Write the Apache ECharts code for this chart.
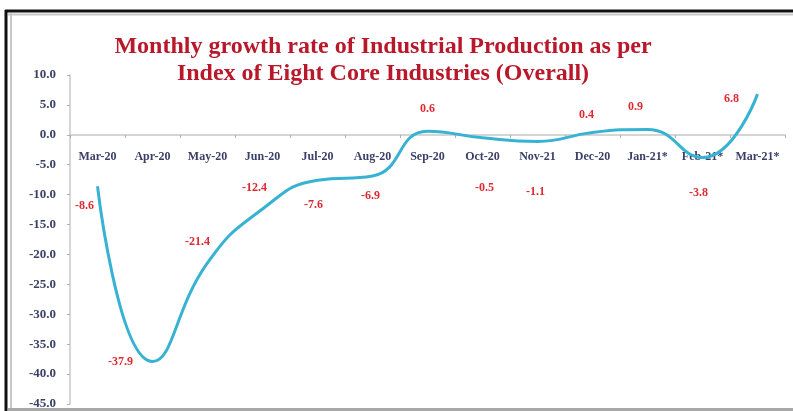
<!DOCTYPE html>
<html>
<head>
<meta charset="utf-8">
<script src="https://cdn.jsdelivr.net/npm/echarts@6/dist/echarts.min.js"></script>
<style>
html,body{margin:0;padding:0;background:#fff;}
#chart{width:793px;height:411px;}
</style>
</head>
<body>
<div id="chart"></div>
<script>
const categories = ['Mar-20','Apr-20','May-20','Jun-20','Jul-20','Aug-20','Sep-20','Oct-20','Nov-21','Dec-20','Jan-21*','Feb-21*','Mar-21*'];
const growthValues = [-8.6, -37.9, -21.4, -12.4, -7.6, -6.9, 0.6, -0.5, -1.1, 0.4, 0.9, -3.8, 6.8];
const labelOffsets = [[-13,20],[-32,0],[-10,-21],[-8,-21],[-4,25],[-2,20],[0,-22],[2,50],[-2,51],[-6,-18],[-12,-23],[-4,35],[-26,5]];

const chart = echarts.init(document.getElementById('chart'), null, {renderer:'canvas'});
const serif = '"Liberation Serif","Times New Roman",serif';

chart.setOption({
  backgroundColor: '#fff',
  animation: false,
  title: {
    text: 'Monthly growth rate of Industrial Production as per\nIndex of Eight Core Industries (Overall)',
    left: 378,
    textAlign: 'center',
    top: 28,
    textStyle: {
      fontFamily: serif,
      fontWeight: 'bold',
      fontSize: 24,
      lineHeight: 27,
      color: '#b8182a'
    }
  },
  grid: { left: 70, right: 8, top: 75, bottom: 7, containLabel: false, outerBoundsMode: 'none' },
  xAxis: {
    type: 'category',
    data: categories,
    boundaryGap: true,
    position: 'top',
    offset: -60,
    axisLine: { onZero: false, lineStyle: { color: '#c8c8c8', width: 1.5 } },
    axisTick: { show: true, inside: true, length: 3, lineStyle: { color: '#b0b0b0' } },
    axisLabel: {
      inside: true,
      margin: 16,
      interval: 0,
      fontFamily: serif,
      fontWeight: 'bold',
      fontSize: 12,
      color: '#3a3f66',
      verticalAlign: 'top'
    },
    splitLine: { show: false }
  },
  yAxis: {
    type: 'value',
    min: -45,
    max: 10,
    interval: 5,
    axisLine: { show: true, lineStyle: { color: '#c8c8c8', width: 1.5 } },
    axisTick: { show: true, length: 3, lineStyle: { color: '#b0b0b0' } },
    axisLabel: {
      margin: 14,
      formatter: v => v.toFixed(1),
      fontFamily: serif,
      fontWeight: 'bold',
      fontSize: 13,
      color: '#3a3f66'
    },
    splitLine: { show: false }
  },
  series: [{
    type: 'line',
    data: growthValues,
    smooth: 0.5,
    showSymbol: true,
    showAllSymbol: true,
    symbol: 'circle',
    symbolSize: 2,
    itemStyle: { color: 'rgba(0,0,0,0)', borderWidth: 0 },
    lineStyle: { color: '#38b2d2', width: 3 },
    label: {
      show: true,
      position: 'inside',
      formatter: p => p.value.toFixed(1),
      fontFamily: serif,
      fontWeight: 'bold',
      fontSize: 12,
      color: '#dc2a30'
    },
    labelLayout: p => ({ dx: labelOffsets[p.dataIndex][0], dy: labelOffsets[p.dataIndex][1], hideOverlap: false }),
    z: 3
  }],
  graphic: [
    { type: 'line', shape: { x1: 5, y1: 11, x2: 793, y2: 11 }, style: { stroke: '#111', lineWidth: 3 }, silent: true },
    { type: 'line', shape: { x1: 6, y1: 10, x2: 6, y2: 411 }, style: { stroke: '#111', lineWidth: 3 }, silent: true },
    { type: 'line', shape: { x1: 8, y1: 14.5, x2: 793, y2: 14.5 }, style: { stroke: '#c8c8c8', lineWidth: 2 }, silent: true },
    { type: 'line', shape: { x1: 11, y1: 13, x2: 11, y2: 411 }, style: { stroke: '#c8c8c8', lineWidth: 2 }, silent: true },
    { type: 'line', shape: { x1: 8, y1: 409.5, x2: 793, y2: 409.5 }, style: { stroke: '#a8a8a8', lineWidth: 3 }, silent: true }
  ]
});
</script>
</body>
</html>
